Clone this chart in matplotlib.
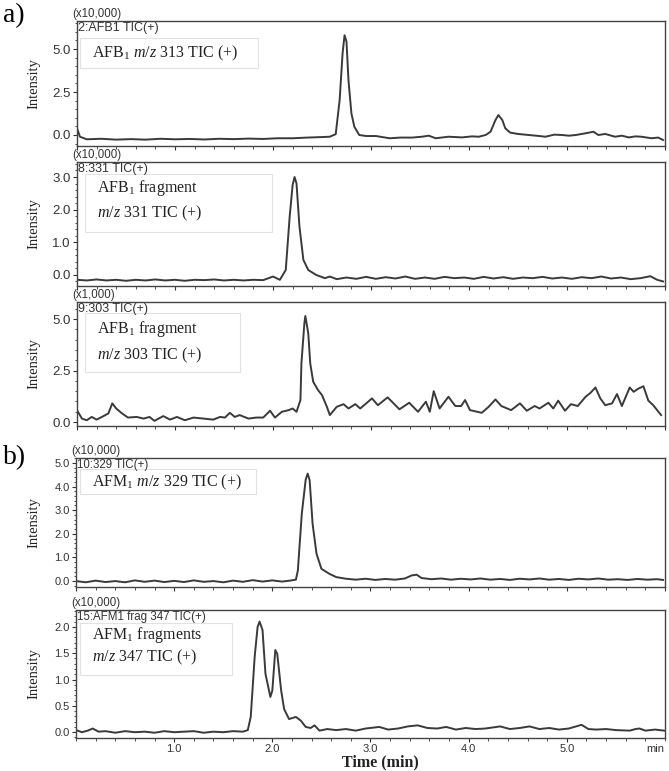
import numpy as np
import matplotlib
matplotlib.use("Agg")
import matplotlib.pyplot as plt
from matplotlib.patches import Rectangle
from matplotlib.ticker import MultipleLocator, FormatStrFormatter

plt.rcParams['font.family'] = ['Liberation Sans', 'DejaVu Sans']
plt.rcParams['mathtext.fontset'] = 'custom'
plt.rcParams['mathtext.rm'] = 'Liberation Serif'
plt.rcParams['mathtext.it'] = 'Liberation Serif:italic'
plt.rcParams['mathtext.bf'] = 'Liberation Serif:bold'

# (time in min, intensity)
afb1_313 = [(0.00, 0.39), (0.03, -0.10), (0.10, -0.25), (0.25, -0.22), (0.40, -0.27), (0.55, -0.24),
            (0.70, -0.27), (0.85, -0.22), (1.00, -0.25), (1.15, -0.23), (1.30, -0.26), (1.45, -0.22),
            (1.60, -0.24), (1.75, -0.21), (1.90, -0.23), (2.05, -0.19), (2.20, -0.19), (2.35, -0.15),
            (2.50, -0.12), (2.58, -0.10), (2.64, 0.05), (2.68, 2.03), (2.71, 4.75), (2.73, 5.80),
            (2.75, 5.43), (2.77, 3.20), (2.80, 1.26), (2.83, 0.48), (2.88, 0.00), (2.95, -0.06),
            (3.05, -0.06), (3.19, -0.19), (3.30, -0.15), (3.42, -0.15), (3.52, -0.10), (3.59, -0.04),
            (3.66, -0.19), (3.79, -0.10), (3.93, -0.14), (4.03, -0.08), (4.10, -0.10), (4.17, 0.00),
            (4.22, 0.19), (4.27, 0.87), (4.30, 1.16), (4.34, 0.87), (4.37, 0.39), (4.42, 0.14),
            (4.50, 0.06), (4.61, 0.00), (4.70, -0.05), (4.78, -0.10), (4.87, 0.02), (4.95, 0.00),
            (5.02, -0.04), (5.09, 0.00), (5.19, 0.10), (5.27, 0.19), (5.32, 0.00), (5.39, 0.06),
            (5.49, -0.10), (5.56, -0.04), (5.63, -0.14), (5.70, -0.08), (5.76, -0.10), (5.86, -0.19),
            (5.93, -0.15), (5.98, -0.29)]

afb1_331 = [(0.00, -0.15), (0.10, -0.17), (0.20, -0.14), (0.30, -0.17), (0.40, -0.15), (0.50, -0.18),
            (0.60, -0.15), (0.70, -0.17), (0.80, -0.14), (0.90, -0.17), (1.00, -0.15), (1.10, -0.18),
            (1.20, -0.15), (1.30, -0.16), (1.40, -0.14), (1.50, -0.17), (1.60, -0.15), (1.70, -0.17),
            (1.80, -0.15), (1.90, -0.16), (2.00, -0.05), (2.07, -0.15), (2.13, 0.15), (2.17, 1.78),
            (2.20, 2.75), (2.22, 3.00), (2.24, 2.80), (2.27, 1.48), (2.31, 0.46), (2.36, 0.15),
            (2.44, 0.00), (2.53, -0.10), (2.58, -0.05), (2.65, -0.13), (2.75, -0.08), (2.85, -0.12),
            (2.95, -0.06), (3.05, -0.12), (3.15, -0.07), (3.25, -0.11), (3.35, -0.05), (3.45, -0.12),
            (3.55, -0.08), (3.65, -0.12), (3.75, -0.06), (3.85, -0.10), (3.95, -0.08), (4.05, -0.12),
            (4.15, -0.06), (4.25, -0.11), (4.35, -0.07), (4.45, -0.12), (4.55, -0.08), (4.65, -0.10),
            (4.75, -0.06), (4.85, -0.11), (4.95, -0.08), (5.05, -0.12), (5.15, -0.07), (5.25, -0.10),
            (5.35, -0.05), (5.45, -0.11), (5.55, -0.08), (5.65, -0.13), (5.75, -0.10), (5.85, -0.04),
            (5.92, -0.15), (5.98, -0.20)]

afb1_303 = [(0.00, 0.58), (0.05, 0.17), (0.10, 0.09), (0.15, 0.25), (0.20, 0.12), (0.27, 0.29),
            (0.32, 0.42), (0.36, 0.91), (0.40, 0.66), (0.46, 0.42), (0.52, 0.22), (0.61, 0.25),
            (0.68, 0.17), (0.74, 0.25), (0.79, 0.06), (0.88, 0.29), (0.95, 0.12), (1.02, 0.25),
            (1.10, 0.09), (1.19, 0.22), (1.29, 0.17), (1.39, 0.12), (1.46, 0.25), (1.51, 0.22),
            (1.56, 0.45), (1.61, 0.25), (1.66, 0.34), (1.75, 0.17), (1.83, 0.22), (1.90, 0.22),
            (1.97, 0.55), (2.02, 0.22), (2.09, 0.50), (2.16, 0.58), (2.20, 0.66), (2.24, 0.50),
            (2.28, 1.07), (2.29, 2.85), (2.32, 4.79), (2.33, 5.15), (2.36, 4.30), (2.38, 2.85),
            (2.41, 1.96), (2.46, 1.55), (2.50, 1.31), (2.55, 0.74), (2.58, 0.34), (2.65, 0.74),
            (2.72, 0.87), (2.77, 0.66), (2.84, 0.87), (2.89, 0.66), (3.01, 1.15), (3.07, 0.82),
            (3.17, 1.20), (3.29, 0.62), (3.39, 0.94), (3.48, 0.50), (3.56, 0.99), (3.60, 0.50),
            (3.64, 1.50), (3.70, 0.66), (3.79, 1.23), (3.86, 0.78), (3.92, 0.78), (3.96, 1.07),
            (4.01, 0.58), (4.13, 0.45), (4.20, 0.74), (4.27, 1.10), (4.33, 0.78), (4.43, 0.58),
            (4.52, 0.91), (4.59, 0.55), (4.67, 0.78), (4.72, 0.66), (4.81, 0.94), (4.86, 0.66),
            (4.91, 1.04), (4.98, 0.55), (5.04, 0.87), (5.11, 0.78), (5.19, 1.23), (5.24, 1.42),
            (5.29, 1.68), (5.34, 1.15), (5.39, 0.82), (5.46, 0.91), (5.51, 1.36), (5.56, 0.78),
            (5.64, 1.68), (5.68, 1.47), (5.73, 1.63), (5.78, 1.74), (5.83, 1.04), (5.88, 0.82),
            (5.96, 0.34)]

afm1_329 = [(0.00, 0.00), (0.10, -0.05), (0.20, 0.02), (0.30, -0.04), (0.40, 0.00), (0.50, -0.05),
            (0.60, 0.03), (0.70, -0.03), (0.80, 0.02), (0.90, -0.04), (1.00, 0.01), (1.10, -0.04),
            (1.20, 0.03), (1.30, -0.03), (1.40, 0.00), (1.50, -0.05), (1.60, 0.02), (1.70, -0.03),
            (1.80, 0.04), (1.90, -0.02), (2.00, 0.03), (2.10, -0.02), (2.18, 0.02), (2.24, 0.06),
            (2.26, 0.45), (2.30, 2.85), (2.34, 4.30), (2.36, 4.55), (2.38, 4.27), (2.41, 2.43),
            (2.45, 1.16), (2.50, 0.52), (2.58, 0.31), (2.65, 0.17), (2.75, 0.10), (2.85, 0.06),
            (2.95, 0.10), (3.05, 0.05), (3.15, 0.09), (3.25, 0.06), (3.35, 0.11), (3.42, 0.24),
            (3.47, 0.27), (3.52, 0.13), (3.62, 0.08), (3.72, 0.11), (3.82, 0.06), (3.92, 0.10),
            (4.02, 0.07), (4.12, 0.11), (4.22, 0.06), (4.32, 0.09), (4.42, 0.05), (4.52, 0.10),
            (4.62, 0.07), (4.72, 0.11), (4.82, 0.06), (4.92, 0.09), (5.02, 0.05), (5.12, 0.10),
            (5.22, 0.07), (5.32, 0.11), (5.42, 0.06), (5.52, 0.08), (5.62, 0.05), (5.72, 0.09),
            (5.82, 0.06), (5.92, 0.08), (5.98, 0.05)]

afm1_347 = [(0.00, 0.04), (0.06, 0.00), (0.12, 0.03), (0.17, 0.07), (0.23, 0.01), (0.30, 0.02),
            (0.40, -0.01), (0.50, 0.02), (0.60, 0.00), (0.70, 0.01), (0.80, -0.01), (0.90, 0.02),
            (1.00, 0.00), (1.10, 0.01), (1.20, 0.02), (1.30, -0.01), (1.40, 0.01), (1.50, 0.00),
            (1.60, 0.02), (1.70, 0.01), (1.75, 0.04), (1.78, 0.29), (1.82, 1.43), (1.85, 2.00),
            (1.87, 2.10), (1.90, 1.94), (1.93, 1.11), (1.98, 0.67), (2.00, 0.79), (2.03, 1.56),
            (2.05, 1.49), (2.09, 0.79), (2.12, 0.44), (2.17, 0.25), (2.24, 0.29), (2.29, 0.22),
            (2.34, 0.10), (2.39, 0.08), (2.43, 0.13), (2.48, 0.03), (2.56, 0.06), (2.65, 0.04),
            (2.75, 0.06), (2.85, 0.03), (2.95, 0.07), (3.09, 0.10), (3.18, 0.05), (3.28, 0.07),
            (3.38, 0.11), (3.48, 0.13), (3.58, 0.08), (3.68, 0.07), (3.77, 0.10), (3.87, 0.05),
            (3.97, 0.08), (4.07, 0.06), (4.17, 0.07), (4.32, 0.11), (4.42, 0.06), (4.52, 0.08),
            (4.62, 0.11), (4.72, 0.06), (4.82, 0.08), (4.92, 0.05), (5.02, 0.07), (5.15, 0.14),
            (5.22, 0.06), (5.30, 0.05), (5.40, 0.06), (5.50, 0.04), (5.64, 0.03), (5.70, 0.06),
            (5.74, 0.07), (5.80, 0.03), (5.90, 0.05), (5.99, 0.03)]

traces = [afb1_313, afb1_331, afb1_303, afm1_329, afm1_347]
scales = ['(x10,000)', '(x10,000)', '(x1,000)', '(x10,000)', '(x10,000)']
channels = ['2:AFB1 TIC(+)', '8:331 TIC(+)', '9:303 TIC(+)', '10:329 TIC(+)', '15:AFM1 frag 347 TIC(+)']
labels = [[r'AFB$_1$ $m/z$ 313 TIC (+)'],
          [r'AFB$_1$ fragment', r'$m/z$ 331 TIC (+)'],
          [r'AFB$_1$ fragment', r'$m/z$ 303 TIC (+)'],
          [r'AFM$_1$ $m/z$ 329 TIC (+)'],
          [r'AFM$_1$ fragments', r'$m/z$ 347 TIC (+)']]
ylims = [(-0.64, 6.63), (-0.34, 3.46), (-0.19, 5.83), (-0.25, 5.21), (-0.11, 2.32)]
ysteps = [2.5, 1.0, 2.5, 1.0, 0.5]

W, H = 669, 771
fig = plt.figure(figsize=(W / 100, H / 100), dpi=100)

def fx(x):
    return x / W

def fy(y):
    return 1 - y / H

# axes boxes in pixels: left, top, right, bottom
boxes = [(77, 21, 665, 146), (77, 162, 665, 286), (77, 302, 665, 426),
         (76, 458, 665, 587), (76, 610, 665, 738)]
# annotation boxes: left, top, right, bottom and text rows
ann_boxes = [(80, 38, 258, 68), (85, 174, 272, 232), (85, 313, 240, 372),
             (80, 469, 256, 494), (80, 623, 232, 675)]
ann_rows = [[53], [188, 213], [329, 355], [482], [635, 657]]
tick_sizes = [9.5, 9.5, 9.5, 8, 8]
chan_sizes = [9, 9, 9, 8.3, 8.3]

ink = '#333333'
for i, data in enumerate(traces):
    l, t, r, b = boxes[i]
    ax = fig.add_axes([fx(l), fy(b), fx(r - l), (b - t) / H])
    arr = np.array(data)
    ax.plot(arr[:, 0], arr[:, 1], color='#3a3a3a', lw=1.4)
    ax.set_xlim(0, 6.0)
    ax.set_ylim(*ylims[i])
    ax.yaxis.set_major_locator(MultipleLocator(ysteps[i]))
    ax.yaxis.set_minor_locator(MultipleLocator(ysteps[i] / 5))
    ax.yaxis.set_major_formatter(FormatStrFormatter('%.1f'))
    ax.xaxis.set_major_locator(MultipleLocator(1.0))
    ax.xaxis.set_minor_locator(MultipleLocator(0.2))
    ax.tick_params(axis='both', which='major', length=3, width=0.8, color=ink,
                   labelsize=tick_sizes[i], labelcolor=ink, pad=1.5)
    ax.tick_params(axis='both', which='minor', length=1.8, width=0.6, color=ink)
    for s in ax.spines.values():
        s.set_color('#444444')
        s.set_linewidth(1.0)
    if i < 4:
        ax.tick_params(axis='x', which='both', labelbottom=False)
    else:
        ax.set_xticks([1, 2, 3, 4, 5, 5.9])
        ax.set_xticklabels(['1.0', '2.0', '3.0', '4.0', '5.0', 'min'])
        ax.xaxis.get_major_ticks()[-1].tick1line.set_visible(False)
    ax.set_ylabel('Intensity', fontname='Liberation Serif', fontsize=10.5, color='#222222')
    ax.yaxis.set_label_coords((40 - l) / (r - l), 0.5)

    fig.text(fx(l - 5), fy(t - 1), scales[i], fontsize=8.3, color=ink, va='bottom', ha='left')
    fig.text(fx(l + 1), fy(t + 1), channels[i], fontsize=chan_sizes[i], color=ink,
             va='top', ha='left')

    al, at, ar, ab = ann_boxes[i]
    fig.patches.append(Rectangle((fx(al), fy(ab)), fx(ar - al), (ab - at) / H,
                                 transform=fig.transFigure, fill=False,
                                 edgecolor='#e2e2e2', lw=0.8))
    for row, txt in zip(ann_rows[i], labels[i]):
        fig.text(fx(al + 12), fy(row), txt, fontname='Liberation Serif', fontsize=11.5,
                 color='#222222', va='center', ha='left')

fig.text(fx(3), fy(16), 'a)', fontname='Liberation Serif', fontsize=20, va='center', ha='left')
fig.text(fx(3), fy(458), 'b)', fontname='Liberation Serif', fontsize=20, va='center', ha='left')
fig.text(fx(380), fy(762), 'Time (min)', fontname='Liberation Serif', fontsize=11.5,
         fontweight='bold', color='#222222', va='center', ha='center')

fig.savefig('out.png', dpi=100)
